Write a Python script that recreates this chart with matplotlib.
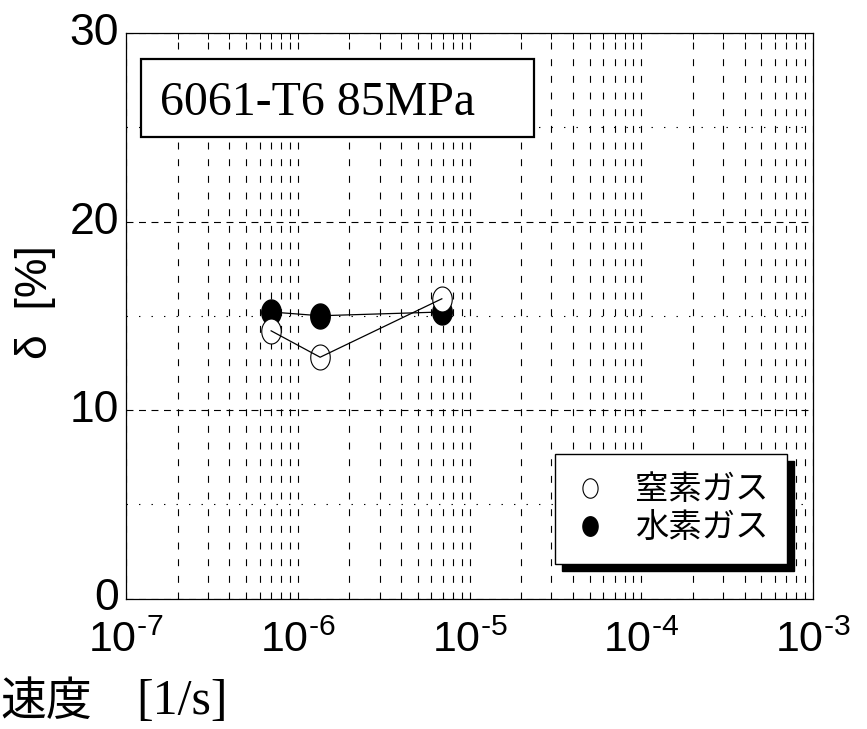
import numpy as np
import matplotlib
matplotlib.use("Agg")
import matplotlib.pyplot as plt
import matplotlib.transforms as mtransforms
from matplotlib.path import Path
from matplotlib.lines import Line2D
from matplotlib.patches import Rectangle
from matplotlib.ticker import FixedLocator, MultipleLocator, NullFormatter

plt.rcParams['lines.scale_dashes'] = False
plt.rcParams['mathtext.fontset'] = 'custom'
plt.rcParams['mathtext.rm'] = 'Liberation Sans'
plt.rcParams['font.family'] = ['Liberation Sans', 'DejaVu Sans']

# ---- data -----------------------------------------------------------------
rate_n2 = [7.0e-7, 1.35e-6, 6.9e-6]      # strain rate [1/s], nitrogen gas
delta_n2 = [14.2, 12.8, 15.9]            # elongation delta [%]
rate_h2 = [7.0e-7, 1.35e-6, 6.9e-6]      # hydrogen gas
delta_h2 = [15.2, 15.0, 15.2]
series_labels = ['窒素ガス', '水素ガス']
x_ticks = [1e-7, 1e-6, 1e-5, 1e-4, 1e-3]
x_ticklabels = ['$\\mathregular{10^{\u20107}}$', '$\\mathregular{10^{\u20106}}$',
                '$\\mathregular{10^{\u20105}}$', '$\\mathregular{10^{\u20104}}$',
                '$\\mathregular{10^{\u20103}}$']
x_minor = [k * d for d in x_ticks[:-1] for k in range(2, 10)]
y_ticks = [0, 10, 20, 30]
note = '6061-T6 85MPa'

# tall elliptical marker (like the stretched original)
t = np.linspace(0, 2 * np.pi, 64)
ellipse = Path(np.c_[0.78 * np.cos(t), np.sin(t)], closed=True)

W, H = 867, 729
fig = plt.figure(figsize=(W / 100, H / 100), dpi=100)
ax = fig.add_axes([126 / W, 1 - 598.5 / H, 687 / W, 565.5 / H])

ax.set_xscale('log')
ax.set_xlim(1e-7, 1e-3)
ax.set_ylim(0, 30)

# grid: dashed verticals at every log position, dashed majors / dotted minors on y
ax.xaxis.set_major_locator(FixedLocator(x_ticks))
ax.xaxis.set_minor_locator(FixedLocator(x_minor))
ax.xaxis.set_minor_formatter(NullFormatter())
ax.set_xticklabels(x_ticklabels)
ax.yaxis.set_major_locator(FixedLocator(y_ticks))
ax.yaxis.set_minor_locator(MultipleLocator(5))
ax.set_axisbelow(True)
ax.grid(which='major', axis='x', color='k', lw=0.8, linestyle=(0, (5, 7)))
ax.grid(which='minor', axis='x', color='k', lw=0.8, linestyle=(0, (5, 7)))
ax.grid(which='major', axis='y', color='k', lw=0.8, linestyle=(0, (5, 4)))
ax.grid(which='minor', axis='y', color='k', lw=0.8, linestyle=(0, (1, 8)))

ax.tick_params(axis='x', which='both', direction='in', top=True, bottom=True,
               length=4, width=0.7, labelsize=31, pad=16)
ax.tick_params(axis='y', which='both', length=0, labelsize=32, pad=5)
for s in ax.spines.values():
    s.set_linewidth(0.9)

# y labels sit a little above their gridline in the original
lift = mtransforms.ScaledTranslation(0, 4 / 100, fig.dpi_scale_trans)
for lbl in ax.get_yticklabels():
    lbl.set_transform(lbl.get_transform() + lift)

# data
ax.plot(rate_h2, delta_h2, '-', color='k', lw=0.9, zorder=3)
ax.plot(rate_h2, delta_h2, ls='none', marker=ellipse, ms=18, mfc='k', mec='k',
        zorder=3)
ax.plot(rate_n2, delta_n2, ls='none', marker=ellipse, ms=18, mfc='white',
        mec='k', mew=0.8, zorder=4)
ax.plot(rate_n2, delta_n2, '-', color='k', lw=0.9, zorder=5)

# condition box
ax.add_patch(Rectangle((0.0223, 0.8165), 0.5714, 0.138, transform=ax.transAxes,
                       fc='white', ec='k', lw=1.6, zorder=6))
ax.text(0.05, 0.8554, note, transform=ax.transAxes, ha='left', va='baseline',
        fontsize=34.5, family='Liberation Serif', zorder=7)

# legend with solid black drop shadow
handles = [Line2D([], [], ls='none', marker=ellipse, ms=14, mfc='white', mec='k', mew=0.8),
           Line2D([], [], ls='none', marker=ellipse, ms=14, mfc='k', mec='k')]
leg = ax.legend(handles, series_labels, loc='upper left',
                bbox_to_anchor=(555 / W, 1 - 454 / H), bbox_transform=fig.transFigure,
                borderaxespad=0, fancybox=False, framealpha=1, edgecolor='k',
                prop={'family': 'Noto Sans CJK JP', 'size': 24},
                handlelength=1.0, handletextpad=0.85, labelspacing=0.1,
                borderpad=0.55,
                shadow={'ox': 5, 'oy': -5, 'color': 'k', 'alpha': 1})
leg.get_frame().set_linewidth(1.0)
leg.set_zorder(8)

# axis labels (x label is cut at the left edge in the original)
fig.text(36 / W, 1 - 302 / H, 'δ  [%]', rotation=90, ha='center', va='center',
         fontsize=32, family=['Liberation Sans', 'DejaVu Sans'])
fig.text(0.0, 1 - 702 / H, '速度', ha='left', va='center', fontsize=33,
         family='Noto Sans CJK JP')
fig.text(136 / W, 1 - 702 / H, '[1/s]', ha='left', va='center', fontsize=36,
         family='Liberation Serif')

fig.savefig('out.png', dpi=100)
